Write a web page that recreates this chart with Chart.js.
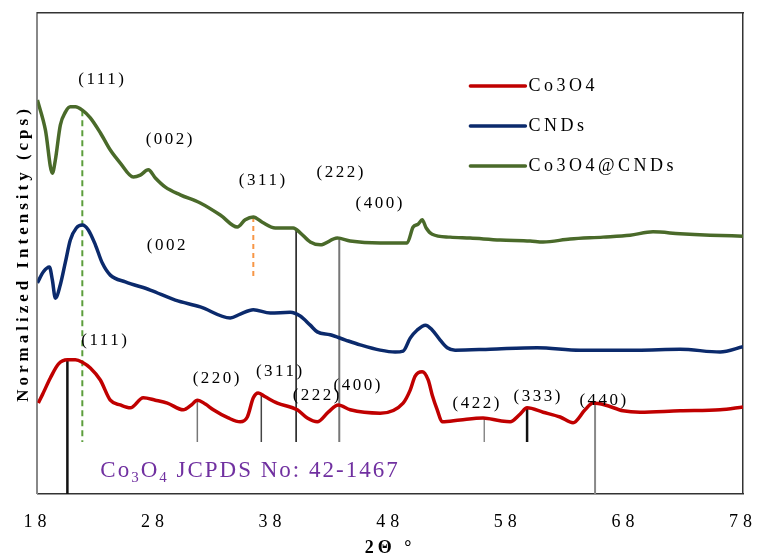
<!DOCTYPE html>
<html lang="en">
<head>
<meta charset="UTF-8">
<title>XRD patterns</title>
<script src="https://cdn.jsdelivr.net/npm/chart.js"></script>
<style>
  html, body { margin: 0; padding: 0; background: #fff; }
  #xrdChart { display: block; }
</style>
</head>
<body>
<canvas id="xrdChart" width="757" height="557"></canvas>
<script>
// 2-theta (deg) and normalized intensity
const co3o4X = [18.08, 18.42, 19.1, 19.78, 20.55, 21.23, 21.82, 22.5, 23.35, 24.2, 25.05, 25.9, 27.0, 28.03, 29.05, 30.4, 31.09, 31.6, 32.28, 32.96, 34.23, 35.25, 35.85, 36.36, 36.78, 37.38, 38.4, 40.1, 40.95, 41.8, 42.73, 43.58, 44.6, 47.15, 49.1, 49.7, 50.12, 50.72, 51.23, 51.57, 52.0, 52.42, 53.95, 55.9, 57.35, 58.2, 59.05, 59.64, 61.0, 62.45, 63.55, 64.57, 65.25, 66.27, 67.8, 69.25, 72.65, 76.05, 78.0];
const co3o4Y = [18.9, 20.6, 24.1, 27.0, 27.9, 27.9, 27.4, 26.2, 23.7, 19.5, 18.5, 17.9, 20.0, 19.5, 18.9, 17.5, 18.5, 19.5, 18.7, 17.5, 15.8, 15.0, 16.0, 20.0, 21.0, 20.2, 18.9, 17.5, 15.8, 15.0, 17.0, 18.5, 17.5, 16.8, 18.9, 21.6, 24.5, 25.4, 23.7, 20.6, 17.5, 15.0, 15.4, 15.8, 15.2, 15.0, 16.6, 17.9, 17.0, 16.0, 14.8, 17.5, 18.9, 18.5, 17.3, 17.0, 17.3, 17.5, 18.1];

const cndsX = [18.0, 18.51, 19.02, 19.27, 19.53, 19.95, 20.38, 20.8, 21.31, 21.82, 22.33, 22.93, 23.52, 24.2, 25.48, 27.6, 29.73, 31.85, 34.4, 35.25, 36.36, 37.8, 39.5, 40.35, 41.2, 41.8, 42.9, 44.2, 45.45, 47.15, 48.42, 49.1, 49.7, 50.3, 51.0, 51.57, 52.25, 52.85, 53.52, 56.5, 60.5, 64.15, 69.0, 72.65, 76.05, 78.0];
const cndsY = [43.9, 46.2, 47.2, 44.5, 40.7, 43.5, 48.2, 52.8, 55.3, 55.9, 54.9, 51.8, 48.0, 45.5, 44.1, 42.4, 40.3, 38.9, 36.6, 37.4, 38.3, 37.6, 37.8, 37.0, 35.1, 33.7, 33.1, 32.0, 31.0, 29.9, 29.5, 29.7, 32.4, 34.1, 35.1, 34.1, 32.0, 30.4, 29.9, 30.1, 30.4, 29.9, 29.9, 30.1, 29.5, 30.6];

const compositeX = [18.0, 18.68, 19.27, 19.53, 19.95, 20.38, 20.8, 21.23, 21.82, 22.5, 23.35, 24.2, 25.05, 26.16, 26.75, 27.43, 28.03, 28.88, 30.15, 31.85, 33.55, 35.0, 35.67, 36.36, 37.12, 38.23, 39.76, 40.35, 41.2, 42.05, 43.5, 44.6, 47.15, 49.44, 49.95, 50.38, 50.72, 51.06, 51.57, 53.1, 54.8, 57.35, 59.9, 61.0, 63.3, 66.1, 68.4, 70.35, 72.65, 75.2, 78.0];
const compositeY = [81.9, 75.7, 66.7, 69.5, 76.7, 79.4, 80.5, 80.5, 79.8, 78.2, 75.1, 71.5, 68.8, 65.9, 66.3, 67.4, 65.7, 63.8, 62.2, 60.5, 58.0, 55.5, 57.0, 57.6, 56.5, 55.3, 55.3, 54.3, 52.4, 51.8, 53.2, 52.6, 52.2, 52.2, 55.5, 56.1, 57.0, 55.3, 54.0, 53.4, 53.2, 52.8, 52.6, 52.4, 53.0, 53.4, 53.8, 54.5, 54.1, 53.8, 53.6];

// reference peak markers: position, top and foot of each stick
const stickX = [20.55, 21.82, 36.36, 40.0, 43.67, 31.6, 37.04, 56.0, 59.64, 65.42];
const stickTop = [27.9, 79.8, 57.6, 55.3, 52.8, 19.5, 21.0, 15.8, 17.9, 18.9];
const stickBase = [0, 10.8, 44.5, 10.8, 10.8, 10.8, 10.8, 10.8, 10.8, 0];

// (hkl) labels
const hklText = ['(111)', '(002)', '(311)', '(222)', '(400)', '(002', '(111)', '(220)', '(311)', '(222)', '(400)', '(422)', '(333)', '(440)'];
const hklX = [23.52, 29.3, 37.2, 43.83, 47.15, 29.05, 23.78, 33.3, 38.65, 41.8, 45.28, 55.4, 60.58, 66.19];
const hklY = [86.1, 73.6, 65.1, 66.9, 60.3, 51.6, 32.0, 24.1, 25.4, 20.4, 22.5, 18.9, 20.2, 19.5];

const seriesLabels = ['Co3O4', 'CNDs', 'Co3O4@CNDs'];
const seriesColors = ['#c00000', '#0b2a6c', '#4a6a2a'];

const stickStyles = [
    { color: '#111', width: 2.5 },
    { color: '#5c9e3c', width: 2, dash: [6, 4] },
    { color: '#f79646', width: 2, dash: [5, 4] },
    { color: '#111', width: 1.5 },
    { color: '#777', width: 2 },
    { color: '#777', width: 1.5 },
    { color: '#444', width: 1.5 },
    { color: '#888', width: 1.5 },
    { color: '#111', width: 2.5 },
    { color: '#888', width: 2 }
];

const serif = '"Liberation Serif", "Times New Roman", serif';

function points(xs, ys) {
    return xs.map((x, i) => ({ x: x, y: ys[i] }));
}

const datasets = [
    { label: seriesLabels[0], data: points(co3o4X, co3o4Y), borderColor: seriesColors[0] },
    { label: seriesLabels[1], data: points(cndsX, cndsY), borderColor: seriesColors[1] },
    { label: seriesLabels[2], data: points(compositeX, compositeY), borderColor: seriesColors[2] }
].map(d => Object.assign(d, { borderWidth: 3.5, pointRadius: 0, cubicInterpolationMode: 'monotone' }));

stickX.forEach((x, i) => {
    const s = stickStyles[i];
    datasets.push({
        label: 'stick' + i,
        data: [{ x: x, y: stickTop[i] }, { x: x, y: stickBase[i] }],
        borderColor: s.color,
        borderWidth: s.width,
        borderDash: s.dash || [],
        pointRadius: 0
    });
});

// hkl labels, JCPDS caption and the legend box
const overlay = {
    id: 'overlay',
    beforeDraw(chart) {
        chart.ctx.letterSpacing = '4px';
    },
    afterDatasetsDraw(chart) {
        const { ctx, chartArea, scales: { x, y } } = chart;
        ctx.save();
        ctx.fillStyle = '#000';
        ctx.textAlign = 'center';
        ctx.textBaseline = 'middle';
        ctx.letterSpacing = '2.5px';
        ctx.font = '17px ' + serif;
        hklText.forEach((t, i) => {
            ctx.fillText(t, x.getPixelForValue(hklX[i]), y.getPixelForValue(hklY[i]));
        });

        // Co3O4 JCPDS No: 42-1467 with subscripts
        const parts = [['Co', 0], ['3', 1], ['O', 0], ['4', 1], [' JCPDS No: 42-1467', 0]];
        let px = x.getPixelForValue(23.35);
        const base = y.getPixelForValue(3.5);
        ctx.textAlign = 'left';
        ctx.textBaseline = 'alphabetic';
        ctx.fillStyle = '#7030a0';
        ctx.letterSpacing = '2px';
        parts.forEach(([t, sub]) => {
            ctx.font = (sub ? '15px ' : '23px ') + serif;
            ctx.fillText(t, px, base + (sub ? 5 : 0));
            px += ctx.measureText(t).width;
        });

        // legend
        ctx.font = '18px ' + serif;
        ctx.letterSpacing = '3.5px';
        ctx.fillStyle = '#000';
        ctx.textBaseline = 'middle';
        const lx = chartArea.left + 433;
        chart.data.datasets.slice(0, 3).forEach((d, i) => {
            const ly = chartArea.top + 73 + i * 40;
            ctx.strokeStyle = d.borderColor;
            ctx.lineWidth = 3.5;
            ctx.lineCap = 'round';
            ctx.beginPath();
            ctx.moveTo(lx, ly);
            ctx.lineTo(lx + 55, ly);
            ctx.stroke();
            ctx.fillText(d.label, lx + 58, ly);
        });
        ctx.restore();
        // tick labels are drawn after the datasets (ticks.z = 1)
        ctx.letterSpacing = '5px';
    },
    afterDraw(chart) {
        chart.ctx.letterSpacing = '0px';
    }
};

const noGrid = { display: false, drawTicks: false };
const hidden = { display: false };

new Chart(document.getElementById('xrdChart'), {
    type: 'line',
    data: { datasets: datasets },
    plugins: [overlay],
    options: {
        responsive: false,
        animation: false,
        layout: { padding: { top: 13, left: 9, right: 14, bottom: 0 } },
        plugins: { legend: hidden, tooltip: { enabled: false } },
        scales: {
            x: {
                type: 'linear', min: 18, max: 78,
                grid: noGrid,
                border: { color: '#333', width: 1.5 },
                // tall line height pushes the labels down without widening the side padding
                ticks: { stepSize: 10, padding: 3, z: 1, color: '#000', font: { family: serif, size: 18, lineHeight: 2.78 } },
                title: { display: true, text: '2Θ °', color: '#000', font: { family: serif, size: 18, weight: 'bold', lineHeight: 1 }, padding: { top: -11, bottom: 0 } }
            },
            y: {
                type: 'linear', min: 0, max: 100,
                grid: noGrid,
                border: { color: '#888', width: 2 },
                ticks: hidden,
                title: { display: true, text: 'Normalized Intensity (cps)', color: '#000', font: { family: serif, size: 17, weight: 'bold' }, padding: { top: 4, bottom: 4 } }
            },
            xTop: {
                type: 'linear', position: 'top', min: 18, max: 78,
                grid: noGrid, ticks: hidden,
                border: { color: '#333', width: 1.5 }
            },
            yRight: {
                type: 'linear', position: 'right', min: 0, max: 100,
                grid: noGrid, ticks: hidden,
                border: { color: '#333', width: 1.5 }
            }
        }
    }
});
</script>
</body>
</html>
